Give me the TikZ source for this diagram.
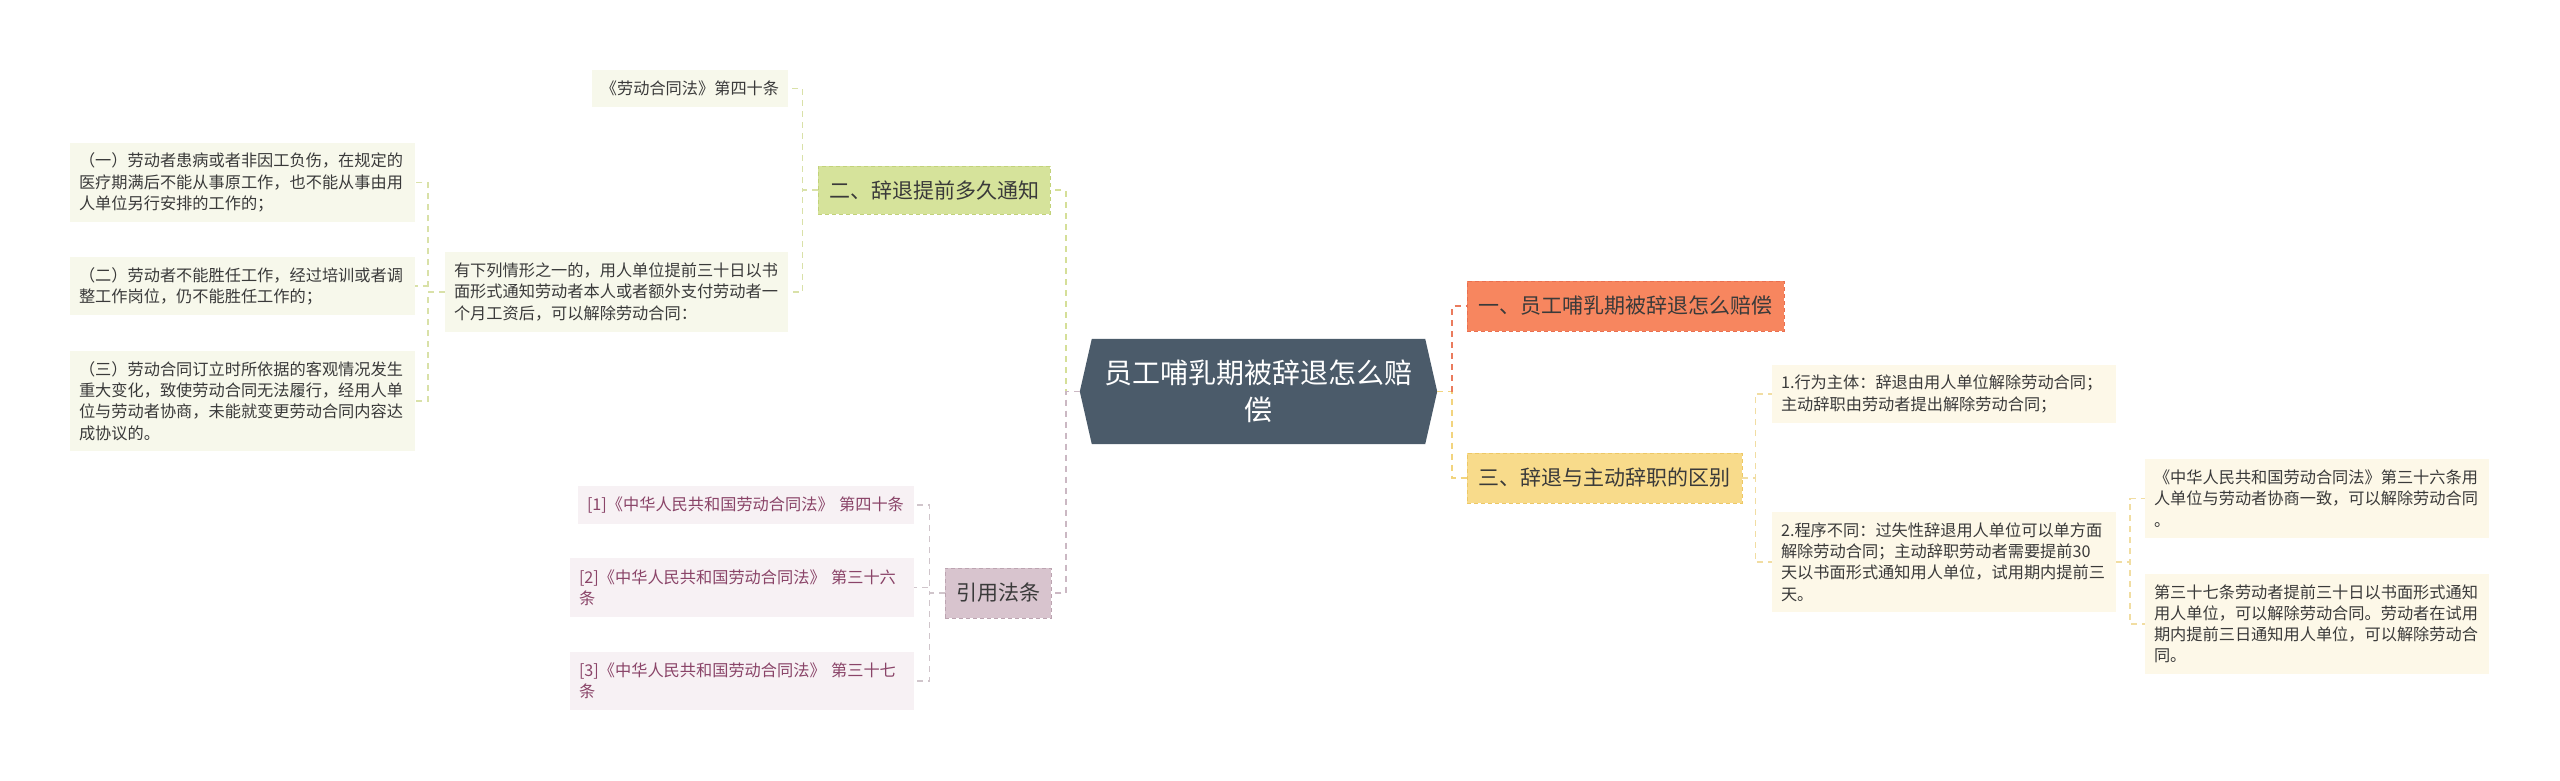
\documentclass[tikz,border=0pt]{standalone}
\usepackage{fontspec}
\setmainfont{Noto Sans CJK SC}
\usetikzlibrary{calc,backgrounds}
\definecolor{rootc}{HTML}{4B5B6A}
\definecolor{bonec}{HTML}{F7865F}
\definecolor{boneb}{HTML}{E96F50}
\definecolor{bthreec}{HTML}{F8DB8B}
\definecolor{bthreeb}{HTML}{EDC866}
\definecolor{btwoc}{HTML}{D6E39B}
\definecolor{btwob}{HTML}{C2D27A}
\definecolor{bfourc}{HTML}{D8C4CE}
\definecolor{bfourb}{HTML}{BCA4B1}
\definecolor{lgreen}{HTML}{F7F8EB}
\definecolor{lyellow}{HTML}{FDF8E8}
\definecolor{lpink}{HTML}{F7F1F4}
\definecolor{txtc}{HTML}{3A3A3A}
\definecolor{pinktxt}{HTML}{8A4468}
\definecolor{cone}{HTML}{EA7B5D}
\definecolor{cthree}{HTML}{F2D47E}
\definecolor{ctwo}{HTML}{D5DF98}
\definecolor{cfour}{HTML}{CBB8C3}
\definecolor{ctwosub}{HTML}{D9E1A8}
\definecolor{cthreesub}{HTML}{F1DDA2}
\definecolor{cfoursub}{HTML}{D0C5CB}
\begin{document}
\begin{tikzpicture}[x=1pt,y=-1pt,
  rootbox/.style={minimum width=357pt, minimum height=105pt, inner sep=0pt, align=center,
    text=white, font=\fontsize{28}{37}\selectfont},
  branch/.style={inner sep=0pt, minimum height=50pt, text=txtc, dashed, line width=0.9pt,
    dash pattern=on 4pt off 3pt, font=\fontsize{21}{26}\selectfont},
  leaf/.style={inner xsep=9pt, inner ysep=0pt, align=left, text=txtc,
    font=\fontsize{16.2}{21.2}\selectfont},
  conn/.style={line width=1.6pt, dash pattern=on 6pt off 5pt}
]
\useasboundingbox (0,0) rectangle (2560,781);

% root
\node[rootbox] (root) at (1258.5,391.5) {员工哺乳期被辞退怎么赔\\偿};

% main branches
\node[branch, fill=bonec, draw=boneb, minimum width=317pt] (b1) at (1625.5,306) {一、员工哺乳期被辞退怎么赔偿};
\node[branch, fill=bthreec, draw=bthreeb, minimum width=275pt] (b3) at (1604.5,478) {三、辞退与主动辞职的区别};
\node[branch, fill=btwoc, draw=btwob, minimum width=232pt, minimum height=48pt] (b2) at (934,190) {二、辞退提前多久通知};
\node[branch, fill=bfourc, draw=bfourb, minimum width=106pt] (b4) at (998,593) {引用法条};

% leaves of branch two
\node[leaf, fill=lgreen, align=center, minimum width=196pt, minimum height=37pt] (l0) at (690,88.5) {《劳动合同法》第四十条};
\node[leaf, fill=lgreen, text width=325pt, minimum height=80pt] (l1) at (616.5,292) {有下列情形之一的，用人单位提前三十日以书\\面形式通知劳动者本人或者额外支付劳动者一\\个月工资后，可以解除劳动合同：};
\node[leaf, fill=lgreen, text width=327pt, minimum height=79pt] (l11) at (242.5,182.5) {（一）劳动者患病或者非因工负伤，在规定的\\医疗期满后不能从事原工作，也不能从事由用\\人单位另行安排的工作的；};
\node[leaf, fill=lgreen, text width=327pt, minimum height=58pt] (l12) at (242.5,286) {（二）劳动者不能胜任工作，经过培训或者调\\整工作岗位，仍不能胜任工作的；};
\node[leaf, fill=lgreen, text width=327pt, minimum height=100pt] (l13) at (242.5,401) {（三）劳动合同订立时所依据的客观情况发生\\重大变化，致使劳动合同无法履行，经用人单\\位与劳动者协商，未能就变更劳动合同内容达\\成协议的。};

% references
\node[leaf, fill=lpink, text=pinktxt, inner xsep=9pt, text width=318pt, minimum height=38pt] (r1) at (746,505) {[1]《中华人民共和国劳动合同法》~第四十条};
\node[leaf, fill=lpink, text=pinktxt, inner xsep=9pt, text width=326pt, minimum height=59pt] (r2) at (742,587.5) {[2]《中华人民共和国劳动合同法》~第三十六\\条};
\node[leaf, fill=lpink, text=pinktxt, inner xsep=9pt, text width=326pt, minimum height=58pt] (r3) at (742,681) {[3]《中华人民共和国劳动合同法》~第三十七\\条};

% leaves of branch three
\node[leaf, fill=lyellow, text width=326pt, minimum height=58pt] (s1) at (1944,394) {1.行为主体：辞退由用人单位解除劳动合同；\\主动辞职由劳动者提出解除劳动合同；};
\node[leaf, fill=lyellow, text width=326pt, minimum height=100pt] (s2) at (1944,562) {2.程序不同：过失性辞退用人单位可以单方面\\解除劳动合同；主动辞职劳动者需要提前30\\天以书面形式通知用人单位，试用期内提前三\\天。};
\node[leaf, fill=lyellow, text width=326pt, minimum height=79pt] (s21) at (2317,498.5) {《中华人民共和国劳动合同法》第三十六条用\\人单位与劳动者协商一致，可以解除劳动合同\\。};
\node[leaf, fill=lyellow, text width=326pt, minimum height=100pt] (s22) at (2317,624) {第三十七条劳动者提前三十日以书面形式通知\\用人单位，可以解除劳动合同。劳动者在试用\\期内提前三日通知用人单位，可以解除劳动合\\同。};

% background and root hexagon
\begin{pgfonlayer}{background}
  \fill[white] (0,0) rectangle (2560,781);
  \fill[rootc] (root.west) -- ([xshift=12pt]root.north west) -- ([xshift=-12pt]root.north east)
    -- (root.east) -- ([xshift=-12pt]root.south east) -- ([xshift=12pt]root.south west) -- cycle;
\end{pgfonlayer}

% connectors from root
\draw[conn, draw=cthree] (root.east) -- ++(15,0) |- (b3.west);
\draw[conn, draw=cone] (root.east) ++(15,0) |- (b1.west);
\draw[conn, draw=ctwo] (root.west) -- ++(-14,0) |- (b2.east);
\draw[conn, draw=cfour] (root.west) -- ++(-14,0) |- (b4.east);

% branch two
\draw[conn, draw=ctwosub] (b2.west) -- ++(-15,0) |- (l0.east);
\draw[conn, draw=ctwosub] (b2.west) -- ++(-15,0) |- (l1.east);
\draw[conn, draw=ctwosub] (l1.west) -- ++(-17,0) |- (l11.east);
\draw[conn, draw=ctwosub] (l1.west) -- ++(-17,0) |- (l12.east);
\draw[conn, draw=ctwosub] (l1.west) -- ++(-17,0) |- (l13.east);

% references
\draw[conn, draw=cfoursub] (b4.west) -- ++(-15,0) |- (r1.east);
\draw[conn, draw=cfoursub] (b4.west) -- ++(-15,0) |- (r2.east);
\draw[conn, draw=cfoursub] (b4.west) -- ++(-15,0) |- (r3.east);

% branch three
\draw[conn, draw=cthreesub] (b3.east) -- ++(13,0) |- (s1.west);
\draw[conn, draw=cthreesub] (b3.east) -- ++(13,0) |- (s2.west);
\draw[conn, draw=cthreesub] (s2.east) -- ++(14,0) |- (s21.west);
\draw[conn, draw=cthreesub] (s2.east) -- ++(14,0) |- (s22.west);
\end{tikzpicture}
\end{document}
